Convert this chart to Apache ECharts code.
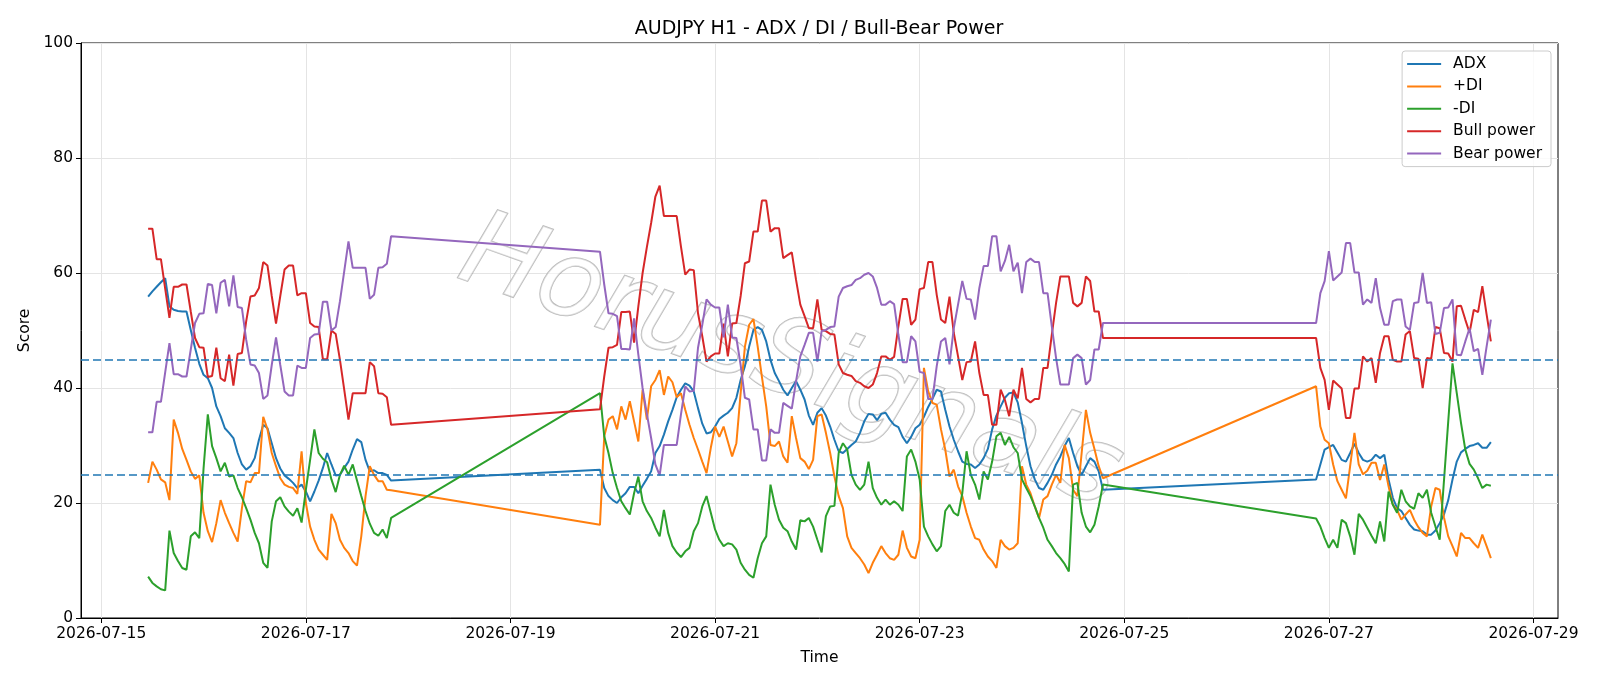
<!DOCTYPE html>
<html>
<head>
<meta charset="utf-8">
<title>AUDJPY H1 - ADX / DI / Bull-Bear Power</title>
<script src="https://cdn.jsdelivr.net/npm/echarts@6/dist/echarts.min.js"></script>
<style>
  html, body { margin: 0; padding: 0; background: #fff; }
  #chart { width: 1600px; height: 686px; }
</style>
</head>
<body>
<div id="chart"></div>
<script>
// H1 bars in three trading blocks (weekends have no bars)
const segStarts = ['2026-07-15T11:00:00Z', '2026-07-19T21:00:00Z', '2026-07-26T21:00:00Z'];
const segLengths = [58, 119, 42];

const tickDates = ['2026-07-15', '2026-07-17', '2026-07-19', '2026-07-21', '2026-07-23', '2026-07-25', '2026-07-27', '2026-07-29'];
const levels = [45, 25];

const names = ['ADX', '+DI', '-DI', 'Bull power', 'Bear power'];
const colors = ['#1f77b4', '#ff7f0e', '#2ca02c', '#d62728', '#9467bd'];

const adx = [
  // 07-15 11:00 .. 07-17 20:00
  55.9, 56.8, 57.6, 58.4, 59.1, 54.2, 53.6, 53.4, 53.3, 53.3, 50.1, 47, 44.2, 42.3, 41.7, 40, 36.8, 35.1, 33, 32.2,
  31.3, 28.7, 26.7, 25.8, 26.4, 27.8, 31, 33.6, 33, 30.4, 27.8, 26, 24.8, 24.2, 23.5, 22.6, 23.2, 22, 20.3, 22,
  23.9, 26.1, 28.7, 26.7, 24.8, 24.9, 26.1, 27.2, 29.3, 31.1, 30.6, 27.5, 25.5, 25.7, 25.2, 25.2, 24.9, 23.9,
  // 07-19 21:00 .. 07-24 19:00
  25.8, 22.6, 21.2, 20.5, 20, 21, 21.7, 22.8, 22.8, 21.7, 23, 24.2, 25.5, 28.7, 29.9, 31.9, 34.2, 36.2, 38.4, 39.7,
  40.8, 40.4, 39.4, 36.5, 33.8, 32.1, 32.3, 33.3, 34.6, 35.2, 35.7, 36.5, 38.3, 41.4, 43.8, 47.2, 50.1, 50.6, 50.1, 48.1,
  44.9, 42.6, 41.2, 39.7, 38.7, 40, 41.2, 39.7, 38, 35.2, 33.6, 35.7, 36.5, 35.2, 33.3, 31, 29, 28.7, 29.4, 30.1,
  30.7, 32.2, 34.2, 35.5, 35.4, 34.4, 35.5, 35.7, 34.5, 33.6, 33.2, 31.5, 30.4, 31.5, 33, 33.6, 35, 36.7, 38.1, 39.7,
  39.4, 36.2, 33.3, 31, 29, 27.2, 26.8, 26.7, 26.1, 26.7, 27.8, 29.4, 32.8, 35.2, 36.8, 38.3, 39.1, 39.2, 37.5, 33.9,
  29.9, 26.4, 24.1, 22.6, 22.3, 23.5, 24.9, 26.7, 28.1, 29.9, 31.3, 28.7, 26.4, 24.9, 26.4, 27.8, 27.2, 25.5, 22.3,
  // 07-26 21:00 .. 07-28 14:00
  24.1, 26.7, 29.3, 29.7, 30.1, 28.8, 27.5, 27.2, 28.7, 30.3, 28.7, 27.5, 27.2, 27.5, 28.4, 27.8, 28.4, 24.1, 20.9, 19.1,
  18.6, 17.4, 16.2, 15.4, 15.2, 15.1, 14.5, 14.5, 15.2, 16.5, 18, 20.5, 24.1, 27.2, 28.8, 29.4, 29.9, 30.1, 30.4, 29.6,
  29.6, 30.6
];

const plusDI = [
  23.5, 27.2, 25.8, 24.1, 23.6, 20.5, 34.5, 32.2, 29.4, 27.5, 25.5, 24.2, 24.8, 18.3, 15.1, 13.2, 16.5, 20.5, 18.3, 16.5,
  14.8, 13.3, 19.1, 23.8, 23.6, 25.2, 25.2, 35, 32.8, 28.7, 26.4, 24.3, 23.2, 22.8, 22.6, 21.6, 29, 20, 15.9, 13.6,
  11.9, 11, 10.1, 18.1, 16.5, 13.6, 12.2, 11.3, 9.9, 9.1, 14.2, 21.2, 26.4, 24.9, 23.8, 23.8, 22.3, 22.2,

  16.2, 31.6, 34.5, 35.1, 32.8, 36.8, 34.5, 37.7, 34.2, 30.7, 39.7, 34.5, 40.3, 41.4, 43.1, 38.8, 42, 41, 38.4, 39.1,
  36.2, 33.6, 31.3, 29.3, 27.2, 25.2, 29.6, 33.3, 31.5, 33.3, 30.7, 28.1, 30.4, 39.1, 47.2, 51, 52, 47.2, 41.9, 36.8,
  30.1, 29.9, 30.7, 28.1, 27, 35.1, 31.3, 27.8, 27.2, 25.9, 27.5, 35.1, 35.4, 32.2, 28.7, 24.6, 21.2, 19.1, 14.2, 12.2,
  11.3, 10.4, 9.3, 7.8, 9.6, 11, 12.5, 11.3, 10.4, 10.1, 11, 15.2, 12.2, 10.7, 10.4, 13.6, 43.5, 39.4, 37.4, 37.1,
  32.8, 29.3, 24.6, 25.8, 22.9, 21.2, 18.3, 15.9, 13.9, 13.6, 11.9, 10.7, 9.9, 8.7, 13.6, 12.5, 11.9, 12.2, 13, 26.4,
  23.2, 21.7, 19.4, 17.4, 20.6, 21.2, 23.2, 24.9, 23.5, 30.1, 27.8, 22.3, 21.2, 28.7, 36.2, 32.2, 29.4, 26.4, 24.3,

  40.3, 33.3, 31, 30.4, 26.7, 23.8, 22.3, 20.8, 26.5, 32.2, 26.7, 25, 25.6, 27, 27, 24, 26.7, 22.9, 19.7, 18.8,
  17.1, 18, 18.8, 17.1, 15.8, 14.8, 14.2, 19.4, 22.6, 22.3, 17.5, 14.2, 12.5, 10.7, 14.8, 13.9, 13.9, 13, 12.2, 14.5,
  12.5, 10.4
];

const minusDI = [
  7.2, 6.1, 5.5, 5, 4.8, 15.2, 11.3, 9.9, 8.7, 8.4, 14.2, 14.9, 13.9, 26, 35.4, 29.9, 27.8, 25.5, 27, 24.6,
  24.8, 22.6, 21, 19.1, 17.1, 14.8, 13, 9.6, 8.7, 16.8, 20.3, 21, 19.4, 18.5, 17.8, 19.1, 16.6, 22.3, 27.5, 32.8,
  28.7, 27.7, 27.1, 24.1, 21.9, 24.9, 26.5, 24.9, 26.7, 23.9, 21.2, 18.6, 16.4, 14.8, 14.3, 15.4, 13.9, 17.4,

  39.1, 31.6, 28.7, 25.2, 22.6, 20.3, 19.1, 18, 21.7, 24.6, 20.3, 18.6, 17.4, 15.7, 14.2, 18.8, 14.8, 12.5, 11.4, 10.6,
  11.6, 12.2, 15.1, 16.5, 19.4, 21.2, 18.3, 15.4, 13.6, 12.5, 13, 12.8, 11.9, 9.6, 8.4, 7.5, 7, 10.4, 13, 14.2,
  23.2, 19.7, 17.1, 15.7, 15.1, 13.3, 11.9, 17, 16.8, 17.4, 15.9, 13.6, 11.4, 17.7, 19.4, 19.5, 28.7, 30.4, 29.3, 24.9,
  23.2, 22.3, 23.2, 27.2, 22.6, 20.9, 19.7, 20.6, 19.7, 20.3, 19.7, 18.6, 28.1, 29.3, 27.2, 24.1, 15.9, 14.2, 12.8, 11.6,
  12.5, 18.6, 19.7, 18.3, 17.8, 21.7, 29, 24.9, 23.2, 20.6, 25.5, 24.1, 27.2, 31.6, 32.2, 30.1, 31.5, 29.7, 28.7, 24.1,
  22.6, 21.2, 19.4, 17.4, 15.7, 13.6, 12.5, 11.3, 10.4, 9.4, 8.1, 23.2, 23.5, 18.3, 15.9, 14.9, 16.2, 19.4, 23.2,

  17.3, 15.9, 13.9, 12.2, 13.6, 12.2, 17.1, 16.5, 14.2, 11, 18.1, 17.1, 15.7, 14.3, 13, 16.8, 13.3, 22, 19.7, 18.3,
  22.3, 20.3, 19.4, 19, 21.7, 20.9, 22.3, 18.3, 15.9, 13.6, 23.9, 34.2, 44.3, 39.1, 33.9, 29.3, 26.8, 25.8, 24.3, 22.6,
  23.2, 23
];

const bullPower = [
  67.7, 67.7, 62.4, 62.4, 57.3, 52.2, 57.6, 57.6, 58, 58, 53.3, 48.7, 47.1, 47, 41.9, 42.1, 47, 41.7, 41.2, 45.8,
  40.4, 45.9, 46.1, 51.6, 55.9, 56.1, 57.4, 61.9, 61.3, 56, 51.2, 56, 60.6, 61.3, 61.3, 56.1, 56.5, 56.5, 51.3, 50.7,
  50.6, 45, 45, 50, 49.4, 44.9, 39.7, 34.5, 39.1, 39.1, 39.1, 39.1, 44.5, 43.8, 39.1, 39, 38.4, 33.6,

  36.3, 42, 47, 47.1, 47.5, 53.2, 53.2, 53.3, 47.9, 54.2, 60, 64.5, 68.7, 73.3, 75.2, 69.9, 69.9, 69.9, 69.9, 64.6,
  59.7, 60.6, 60.5, 53, 49, 44.6, 45.5, 46, 46, 51.2, 45.5, 51.2, 51.3, 56, 61.7, 62, 67.2, 67.2, 72.6, 72.6,
  67.2, 67.8, 67.8, 62.6, 63.1, 63.6, 58.8, 54.5, 52.5, 50.4, 50.4, 55.4, 50.1, 49.9, 49.4, 49.3, 44.1, 42.6, 42.3, 42.1,
  41.2, 40.9, 40.3, 40, 40.6, 42.6, 45.5, 45.5, 44.9, 45.4, 50.7, 55.5, 55.5, 51, 51.9, 57.2, 57.4, 61.9, 61.9, 56.2,
  51.9, 51.3, 55.9, 49.6, 45.5, 41.4, 44.5, 44.6, 48.1, 42.6, 38.8, 38.8, 33.6, 33.6, 39.7, 37.9, 35.1, 39.7, 38.2, 43.5,
  38.1, 37.5, 38.1, 38.1, 43.5, 43.5, 49.3, 54.8, 59.4, 59.4, 59.4, 54.8, 54.2, 54.8, 59.4, 58.6, 53.3, 53.3, 48.7,

  48.7, 43.5, 41.4, 36.2, 41.3, 40.6, 39.9, 34.8, 34.8, 39.9, 39.9, 45.5, 44.6, 45.2, 40.9, 46.1, 49, 49, 44.9, 44.6,
  44.6, 49.3, 49.9, 45.2, 45.1, 40, 45.2, 45.1, 50.6, 50.4, 46.1, 46, 44.6, 54.2, 54.3, 51.9, 49.6, 53.6, 53.2, 57.7,
  52.8, 48.1
];

const bearPower = [
  32.3, 32.3, 37.6, 37.6, 42.7, 47.8, 42.4, 42.4, 42, 42, 46.7, 51.3, 52.9, 53, 58.1, 57.9, 53, 58.3, 58.8, 54.2,
  59.6, 54.1, 53.9, 48.4, 44.1, 43.9, 42.6, 38.1, 38.7, 44, 48.8, 44, 39.4, 38.7, 38.7, 43.9, 43.5, 43.5, 48.7, 49.3,
  49.4, 55, 55, 50, 50.6, 55.1, 60.3, 65.5, 60.9, 60.9, 60.9, 60.9, 55.5, 56.2, 60.9, 61, 61.6, 66.4,

  63.7, 58, 53, 52.9, 52.5, 46.8, 46.8, 46.7, 52.1, 45.8, 40, 35.5, 31.3, 26.7, 24.8, 30.1, 30.1, 30.1, 30.1, 35.4,
  40.3, 39.4, 39.5, 47, 51, 55.4, 54.5, 54, 54, 48.8, 54.5, 48.8, 48.7, 44, 38.3, 38, 32.8, 32.8, 27.4, 27.4,
  32.8, 32.2, 32.2, 37.4, 36.9, 36.4, 41.2, 45.5, 47.5, 49.6, 49.6, 44.6, 49.9, 50.1, 50.6, 50.7, 55.9, 57.4, 57.7, 57.9,
  58.8, 59.1, 59.7, 60, 59.4, 57.4, 54.5, 54.5, 55.1, 54.6, 49.3, 44.5, 44.5, 49, 48.1, 42.8, 42.6, 38.1, 38.1, 43.8,
  48.1, 48.7, 44.1, 50.4, 54.5, 58.6, 55.5, 55.4, 51.9, 57.4, 61.2, 61.2, 66.4, 66.4, 60.3, 62.1, 64.9, 60.3, 61.8, 56.5,
  61.9, 62.5, 61.9, 61.9, 56.5, 56.5, 50.7, 45.2, 40.6, 40.6, 40.6, 45.2, 45.8, 45.2, 40.6, 41.4, 46.7, 46.7, 51.3,

  51.3, 56.5, 58.6, 63.8, 58.7, 59.4, 60.1, 65.2, 65.2, 60.1, 60.1, 54.5, 55.4, 54.8, 59.1, 53.9, 51, 51, 55.1, 55.4,
  55.4, 50.7, 50.1, 54.8, 54.9, 60, 54.8, 54.9, 49.4, 49.6, 53.9, 54, 55.4, 45.8, 45.7, 48.1, 50.4, 46.4, 46.8, 42.3,
  47.2, 51.9
];

// hourly timestamps for each block
let times = [];
segStarts.forEach((s, k) => {
  let t0 = Date.parse(s);
  for (let i = 0; i < segLengths[k]; i++) times.push(t0 + i * 3600000);
});

const values = [adx, plusDI, minusDI, bullPower, bearPower];
values.forEach((v, i) => {
  if (v.length !== times.length) console.log(names[i] + ' length ' + v.length + ' != ' + times.length);
});

// matplotlib style 5% margin on the x range
let span = times[times.length - 1] - times[0];
let xMin = times[0] - span * 0.05;
let xMax = times[times.length - 1] + span * 0.05;
let tickValues = tickDates.map(d => Date.parse(d + 'T00:00:00Z'));

const font = 'DejaVu Sans';
const gridColor = '#e4e4e4';

let myChart = echarts.init(document.getElementById('chart'), null, { renderer: 'canvas' });

let series = names.map((name, i) => ({
  name: name,
  type: 'line',
  showSymbol: false,
  symbol: 'none',
  lineStyle: { color: colors[i], width: 2 },
  itemStyle: { color: colors[i] },
  data: times.map((t, j) => [t, values[i][j]])
}));

// threshold lines on top of everything
series.push({
  name: 'levels',
  type: 'line',
  data: [],
  markLine: {
    silent: true,
    symbol: ['none', 'none'],
    label: { show: false },
    lineStyle: { color: '#1f77b4', width: 1.6, type: [8, 4] },
    data: levels.map(v => ({ yAxis: v }))
  }
});

let option = {
  animation: false,
  backgroundColor: '#fff',
  title: {
    text: 'AUDJPY H1 - ADX / DI / Bull-Bear Power',
    left: 814,
    textAlign: 'center',
    top: 15,
    textStyle: { fontFamily: font, fontSize: 19, fontWeight: 'normal', color: '#000' }
  },
  graphic: [{
    type: 'text',
    x: 790,
    y: 366,
    rotation: -0.34,
    z: 1,
    silent: true,
    style: {
      text: 'HorusSignals',
      font: 'italic 200 106px "DejaVu Sans"',
      textAlign: 'center',
      textVerticalAlign: 'middle',
      fill: 'rgba(255,255,255,0.5)',
      stroke: 'rgba(140,140,140,0.6)',
      lineWidth: 1.5,
      shadowColor: 'rgba(0,0,0,0.2)',
      shadowBlur: 2,
      shadowOffsetX: 3,
      shadowOffsetY: 3
    }
  }],
  legend: {
    data: names,
    orient: 'vertical',
    right: 49,
    top: 51,
    padding: [4, 9, 4, 5],
    itemGap: 4.4,
    itemWidth: 34,
    itemHeight: 2,
    icon: 'rect',
    borderColor: '#cccccc',
    borderWidth: 1,
    borderRadius: 3,
    backgroundColor: 'rgba(255,255,255,0.8)',
    textStyle: { fontFamily: font, fontSize: 15.5, color: '#000', lineHeight: 18, padding: [0, 0, 0, 7] }
  },
  grid: {
    left: 81,
    right: 42,
    top: 43,
    bottom: 68,
    show: true,
    borderColor: '#000',
    borderWidth: 1,
    backgroundColor: 'transparent'
  },
  xAxis: {
    type: 'value',
    min: xMin,
    max: xMax,
    name: 'Time',
    nameLocation: 'middle',
    nameGap: 32,
    nameTextStyle: { fontFamily: font, fontSize: 15.5, color: '#000' },
    axisLine: { show: true, onZero: false, lineStyle: { color: '#000', width: 1 } },
    axisTick: { show: true, length: 5, lineStyle: { color: '#000' }, customValues: tickValues },
    axisLabel: {
      customValues: tickValues,
      margin: 8,
      fontFamily: font,
      fontSize: 15.5,
      color: '#000',
      formatter: v => new Date(v).toISOString().slice(0, 10)
    },
    splitLine: { show: true, lineStyle: { color: gridColor, width: 1 } }
  },
  yAxis: {
    type: 'value',
    min: 0,
    max: 100,
    interval: 20,
    name: 'Score',
    nameLocation: 'middle',
    nameGap: 45,
    nameRotate: 90,
    nameTextStyle: { fontFamily: font, fontSize: 15.5, color: '#000' },
    axisLine: { show: true, lineStyle: { color: '#000', width: 1 } },
    axisTick: { show: true, length: 5, lineStyle: { color: '#000' } },
    axisLabel: { margin: 8, fontFamily: font, fontSize: 15.5, color: '#000' },
    splitLine: { show: true, lineStyle: { color: gridColor, width: 1 } }
  },
  series: series
};

myChart.setOption(option);
</script>
</body>
</html>
